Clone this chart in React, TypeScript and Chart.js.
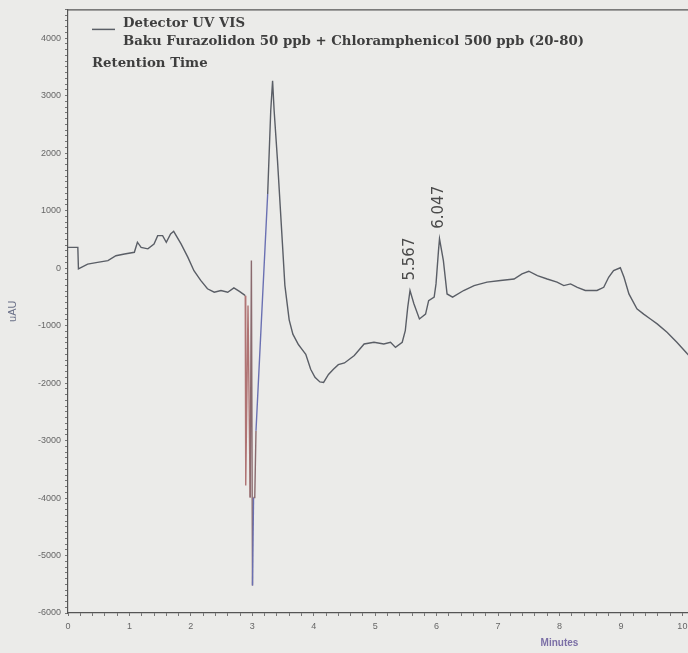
import { useEffect, useRef } from "react";
import { Chart, registerables } from "chart.js";

Chart.register(...registerables);

// Retention time (minutes)
const retentionTimes = [
  0.0, 0.16, 0.17, 0.32, 0.48, 0.65, 0.78, 0.92, 1.08, 1.13, 1.19, 1.3, 1.4, 1.46, 1.54, 1.6, 1.67, 1.72,
  1.84, 1.95, 2.05, 2.16, 2.27, 2.38, 2.49, 2.6, 2.7, 2.79, 2.87, 2.885, 2.893, 2.93, 2.965, 2.985, 3.003,
  3.02, 3.04, 3.06, 3.14, 3.25, 3.3, 3.33, 3.355, 3.41, 3.49, 3.53, 3.6, 3.66, 3.75, 3.8, 3.87, 3.95, 4.02,
  4.1, 4.16, 4.24, 4.32, 4.4, 4.5, 4.66, 4.82, 4.98, 5.14, 5.25, 5.33, 5.44, 5.49, 5.53, 5.567, 5.63, 5.72,
  5.82, 5.87, 5.96, 5.99, 6.03, 6.047, 6.11, 6.17, 6.26, 6.44, 6.61, 6.82, 7.04, 7.26, 7.39, 7.5, 7.64, 7.8,
  7.96, 8.07, 8.18, 8.29, 8.42, 8.61, 8.72, 8.8, 8.88, 8.99, 9.05, 9.13, 9.26, 9.37, 9.48, 9.59, 9.75, 9.91,
  10.08, 10.25,
];

// Detector signal (uAU)
const signal = [
  360, 360, -15, 70, 100, 130, 215, 245, 275, 450, 360, 335, 420, 565, 565, 450, 595, 640,
  420, 190, -45, -215, -360, -420, -390, -420, -345, -405, -465, -480, -3780, -650, -3990, 130, -5520,
  -3990, -3990, -2830, -1090, 1290, 2740, 3260, 2740, 1870, 430, -300, -900, -1150, -1330, -1400, -1500, -1760, -1900,
  -1980, -1990, -1850, -1760, -1680, -1650, -1520, -1320, -1290, -1320, -1290, -1380, -1290, -1090, -680, -390, -620, -885,
  -800, -565, -505, -275, 300, 510, 130, -450, -505, -390, -305, -245, -215, -190, -100, -55, -130, -190,
  -245, -305, -275, -335, -390, -390, -335, -160, -45, 5, -160, -450, -710, -800, -885, -970, -1115, -1290,
  -1490, -1680,
];

// Annotated peaks
const peakTimes = [5.567, 6.047];
const peakLabels = ["5.567", "6.047"];

// Axes
const xMin = 0;
const xMax = 16;
const yMin = -6000;
const yMax = 4500;
const xTitle = "Minutes";
const yTitle = "uAU";

// Legend text
const legendLines = ["Detector UV VIS", "Baku Furazolidon 50 ppb + Chloramphenicol 500 ppb (20-80)"];
const legendExtra = "Retention Time";

const TRACE = "#5a5e66";
const RED = "#b07474";
const BLUE = "#6a70b2";
const BROWN = "#8a6a6e";

const frameAndLegend = {
  id: "frameAndLegend",
  afterDraw(chart: any) {
    const { ctx, chartArea } = chart;
    const { left, top, right } = chartArea;
    ctx.save();
    // top frame line
    ctx.strokeStyle = "#555";
    ctx.lineWidth = 1.2;
    ctx.beginPath();
    ctx.moveTo(left, top + 0.5);
    ctx.lineTo(right, top + 0.5);
    ctx.stroke();

    // legend
    ctx.strokeStyle = TRACE;
    ctx.lineWidth = 1.5;
    ctx.beginPath();
    ctx.moveTo(left + 24, top + 20);
    ctx.lineTo(left + 47, top + 20);
    ctx.stroke();
    ctx.fillStyle = "#3e3e3e";
    ctx.font = "bold 13.3px 'DejaVu Serif'";
    ctx.textAlign = "left";
    ctx.textBaseline = "alphabetic";
    ctx.fillText(legendLines[0], left + 55, top + 18);
    ctx.fillText(legendLines[1], left + 55, top + 36);
    ctx.fillText(legendExtra, left + 24, top + 58);

    // peak labels
    const xs = chart.scales.x;
    const ys = chart.scales.y;
    ctx.fillStyle = "#4a4a4a";
    ctx.font = "15px 'DejaVu Sans'";
    peakTimes.forEach((t, i) => {
      const idx = retentionTimes.indexOf(t);
      const px = xs.getPixelForValue(t);
      const py = ys.getPixelForValue(signal[idx]);
      ctx.save();
      ctx.translate(px, py - 10);
      ctx.rotate(-Math.PI / 2);
      ctx.textAlign = "left";
      ctx.textBaseline = "middle";
      ctx.fillText(peakLabels[i], 0, 0);
      ctx.restore();
    });
    ctx.restore();
  },
};

export default function App() {
  const ref = useRef<HTMLCanvasElement | null>(null);

  useEffect(() => {
    if (!ref.current) return;
    const points = retentionTimes.map((t, i) => ({ x: t, y: signal[i] }));
    const chart = new Chart(ref.current, {
      type: "scatter",
      data: {
        datasets: [
          {
            label: legendLines[0],
            data: points,
            showLine: true,
            borderColor: TRACE,
            borderWidth: 1.4,
            pointRadius: 0,
            tension: 0,
            segment: {
              borderColor: (c: any) => {
                const x0 = c.p0.parsed.x;
                if (x0 >= 2.884 && x0 < 2.96) return RED;
                if (x0 >= 2.96 && x0 < 3.0) return BROWN;
                if (x0 >= 3.0 && x0 < 3.015) return BLUE;
                if (x0 >= 3.015 && x0 < 3.05) return BROWN;
                if (x0 >= 3.05 && x0 < 3.2) return BLUE;
                return TRACE;
              },
            },
          },
        ],
      },
      options: {
        animation: false,
        responsive: false,
        devicePixelRatio: 1,
        layout: { padding: { left: 0, top: 7, right: 49, bottom: 0 } },
        plugins: {
          legend: { display: false },
          tooltip: { enabled: false },
        },
        scales: {
          x: {
            type: "linear",
            min: xMin,
            max: xMax,
            afterFit: (s: any) => {
              s.height = 40;
            },
            border: { display: true, color: "#555", width: 1.2 },
            grid: { drawOnChartArea: false, drawTicks: true, tickLength: 3, tickColor: "#777" },
            ticks: {
              stepSize: 0.2,
              autoSkip: false,
              maxRotation: 0,
              padding: 5,
              color: "#666",
              font: { family: "'Liberation Sans'", size: 9 },
              callback: (v: any) => (Math.abs(v - Math.round(v)) < 1e-6 ? String(Math.round(v)) : ""),
            },
            title: {
              display: true,
              text: xTitle,
              color: "#7b6fa6",
              font: { family: "'Liberation Sans'", size: 10, weight: "bold" },
              padding: { top: 0, bottom: 4 },
            },
          },
          y: {
            type: "linear",
            min: yMin,
            max: yMax,
            afterFit: (s: any) => {
              s.width = 68;
            },
            border: { display: true, color: "#555", width: 1.2 },
            grid: { drawOnChartArea: false, drawTicks: true, tickLength: 3, tickColor: "#777" },
            ticks: {
              stepSize: 100,
              autoSkip: false,
              padding: 4,
              color: "#666",
              font: { family: "'Liberation Sans'", size: 9 },
              callback: (v: any) => (Math.abs(v % 1000) < 1e-6 ? String(v) : ""),
            },
            title: {
              display: true,
              text: yTitle,
              color: "#6a7088",
              font: { family: "'Liberation Sans'", size: 11 },
              padding: { top: 6, bottom: 0 },
            },
          },
        },
      },
      plugins: [frameAndLegend],
    });
    return () => chart.destroy();
  }, []);

  return (
    <div
      style={{
        position: "fixed",
        left: 0,
        top: 0,
        width: 688,
        height: 653,
        overflow: "hidden",
        background: "#ebebe9",
      }}
    >
      <canvas ref={ref} width={1100} height={653} style={{ display: "block" }} />
    </div>
  );
}
